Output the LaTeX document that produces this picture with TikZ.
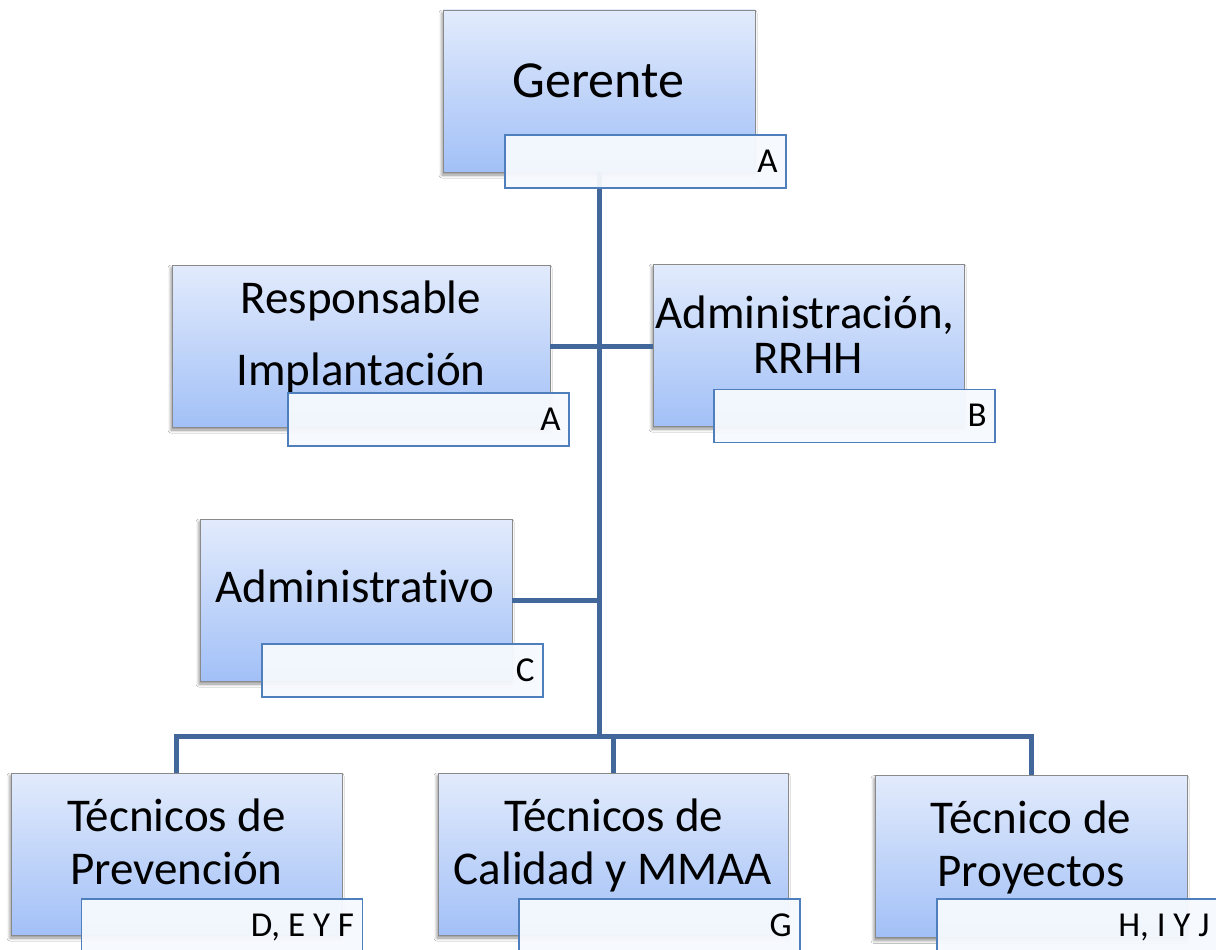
\documentclass[tikz,border=0pt]{standalone}
\usepackage{fontspec}
\setmainfont{Carlito}[Ligatures=NoCommon]
\usetikzlibrary{shadows.blur}

\definecolor{boxtop}{HTML}{E2EBFC}
\definecolor{boxbot}{HTML}{A2C0F7}
\definecolor{boxedge}{HTML}{8A8A8A}
\definecolor{tagedge}{HTML}{4F7EBD}
\definecolor{tagfill}{HTML}{F6F9FE}
\definecolor{wire}{HTML}{41679B}

\tikzset{
  unit/.style={rectangle, draw=boxedge, line width=0.8pt, top color=boxtop,
    bottom color=boxbot, inner sep=0pt, minimum height=162pt,
    blur shadow={shadow xshift=-1pt, shadow yshift=-3pt, shadow opacity=45,
      shadow blur steps=6, shadow blur radius=3pt}},
  title/.style={anchor=base, inner sep=0pt, font=\fontsize{47}{56}\selectfont},
  tag/.style={rectangle, draw=tagedge, line width=1.6pt, fill=tagfill,
    fill opacity=0.95, text opacity=1, minimum width=281pt,
    minimum height=53pt, inner sep=0pt},
  code/.style={anchor=base east, inner sep=0pt,
    font=\fontsize{35}{40}\selectfont},
  link/.style={draw=wire, line width=5pt}
}

\begin{document}
\begin{tikzpicture}[x=1pt, y=-1pt]
\useasboundingbox (0,0) rectangle (1216,950);
\fill[white] (0,0) rectangle (1216,950);

% position boxes
\node[unit, minimum width=312pt] (ger)   at (599,91)    {};
\node[unit, minimum width=378pt] (resp)  at (361,346)   {};
\node[unit, minimum width=311pt] (rrhh)  at (808.5,345) {};
\node[unit, minimum width=312pt] (admv)  at (356,600)   {};
\node[unit, minimum width=331pt] (tprev) at (176.5,854) {};
\node[unit, minimum width=350pt] (tcal)  at (613,854)   {};
\node[unit, minimum width=312pt] (tproy) at (1031,856.5){};

% connectors
\coordinate (hub) at (599,736);
\draw[link] (ger.south) -- (hub);
\draw[link] (resp.east) -- (rrhh.west |- resp.east);
\draw[link] (admv.east) -- (admv.east -| hub);
\draw[link] (hub) -| (tprev.north);
\draw[link] (hub) -| (tcal.north);
\draw[link] (hub) -| (tproy.north);

% titles
\node[title, font=\fontsize{52}{60}\selectfont] (ger-t) at (598.5,97) {Gerente};
\node[title] (resp-t1) at (361,313) {Responsable};
\node[title] (resp-t2) at (361,385) {Implantación};
\node[title] (rrhh-t1) at (805,328) {Administración,};
\node[title] (rrhh-t2) at (808,373) {RRHH};
\node[title] (admv-t)  at (355,602) {Administrativo};
\node[title] (tprev-t1) at (176.5,831) {Técnicos de};
\node[title] (tprev-t2) at (176.5,884) {Prevención};
\node[title] (tcal-t1)  at (614,831) {Técnicos de};
\node[title] (tcal-t2)  at (613,884) {Calidad y MMAA};
\node[title] (tproy-t1) at (1031,833) {Técnico de};
\node[title] (tproy-t2) at (1031,886) {Proyectos};

% code tags, letters set flush right on a common baseline
\node[tag] (ger-l)   at (645.5,161.5) {};
\node[tag] (resp-l)  at (428.5,419.5) {};
\node[tag] (rrhh-l)  at (854.5,416)   {};
\node[tag] (admv-l)  at (402.5,670.5) {};
\node[tag] (tprev-l) at (222,925.5)   {};
\node[tag] (tcal-l)  at (659.5,925.5) {};
\node[tag] (tproy-l) at (1077.5,925.5){};

\node[code] (ger-c)   at ([xshift=-9pt, yshift=-10.5pt]ger-l.center -| ger-l.east)     {A};
\node[code] (resp-c)  at ([xshift=-9pt, yshift=-10.5pt]resp-l.center -| resp-l.east)   {A};
\node[code] (rrhh-c)  at ([xshift=-9pt, yshift=-10.5pt]rrhh-l.center -| rrhh-l.east)   {B};
\node[code] (admv-c)  at ([xshift=-9pt, yshift=-10.5pt]admv-l.center -| admv-l.east)   {C};
\node[code] (tprev-c) at ([xshift=-9pt, yshift=-10.5pt]tprev-l.center -| tprev-l.east) {D, E Y F};
\node[code] (tcal-c)  at ([xshift=-9pt, yshift=-10.5pt]tcal-l.center -| tcal-l.east)   {G};
\node[code] (tproy-c) at ([xshift=-9pt, yshift=-10.5pt]tproy-l.center -| tproy-l.east) {H, I Y J};
\end{tikzpicture}
\end{document}
